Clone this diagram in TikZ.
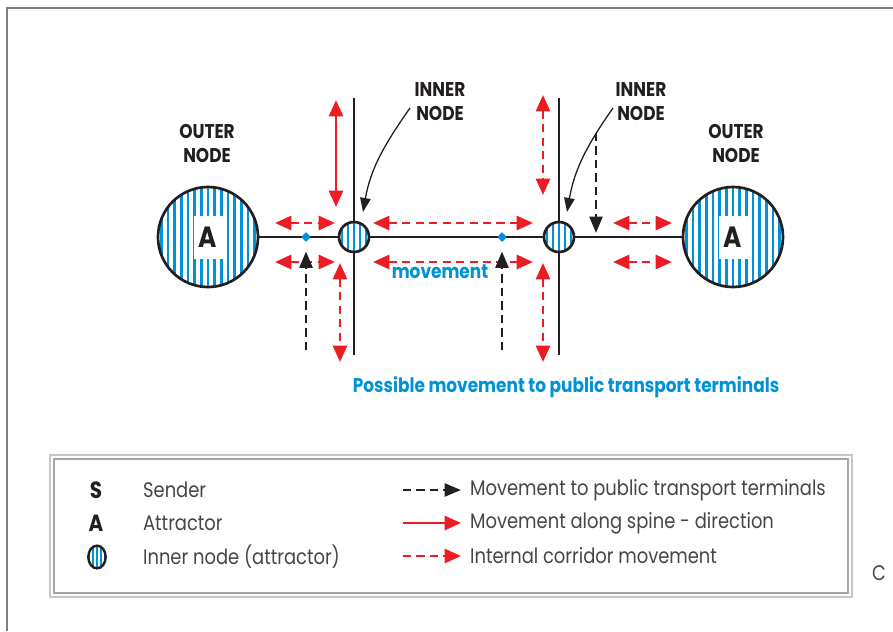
\documentclass[tikz,border=0pt]{standalone}
\usepackage{fontspec}
\setmainfont{Poppins}[FakeStretch=0.85]
\usetikzlibrary{arrows.meta,shapes.geometric}
\definecolor{stripeblue}{RGB}{0,146,214}
\definecolor{spinered}{RGB}{237,28,36}
\definecolor{ink}{RGB}{35,31,32}
\definecolor{framegray}{RGB}{128,128,128}
\definecolor{keygray}{RGB}{70,70,70}

\begin{document}
\begin{tikzpicture}[x=0.03cm,y=0.03cm,
    stripe/.style={stripeblue,line width=2.4pt},
    stripes/.style={path picture={\foreach \k in {-12,...,12}
        \draw[stripe] ([xshift=\k*#1]path picture bounding box.south) -- ([xshift=\k*#1]path picture bounding box.north);}},
    outer node/.style={circle,draw=ink,line width=2.3pt,minimum size=3cm,inner sep=0pt,stripes=0.2cm},
    inner node/.style={circle,draw=ink,line width=2.3pt,minimum size=0.9cm,inner sep=0pt,stripes=0.18cm},
    letter box/.style={fill=white,text=ink,minimum width=0.87cm,minimum height=1.29cm,inner sep=0pt,font=\fontsize{25}{25}\selectfont\bfseries},
    title text/.style={align=center,text=ink,font=\fontsize{17}{20.5}\selectfont\bfseries},
    key text/.style={anchor=west,text=keygray,font=\fontsize{18}{18}\selectfont},
    key letter/.style={text=ink,font=\fontsize{20}{20}\selectfont\bfseries},
    dot/.style={diamond,fill=stripeblue,minimum size=0.29cm,inner sep=0pt},
    spine/.style={ink,line width=2.4pt},
    along/.style={spinered,line width=2.4pt,{Triangle[length=14pt,width=12pt]}-{Triangle[length=14pt,width=12pt]}},
    corridor/.style={along,dash pattern=on 7pt off 4.5pt},
    transit/.style={ink,line width=2.4pt,dash pattern=on 7pt off 4.5pt,-{Triangle[length=14pt,width=11pt]}},
    pointer/.style={ink,line width=1.1pt,-{Triangle[length=12pt,width=9pt]}}]

    \useasboundingbox (0,0) rectangle (893,-631);
    % frame
    \draw[framegray,line width=1.7pt] (7,-631) -- (7,-7.5) -- (893,-7.5);

    % nodes
    \node[outer node] (outerL) at (208,-237) {};
    \node[outer node] (outerR) at (733,-237) {};
    \node[letter box] (aL) at (outerL) {A};
    \node[letter box] (aR) at (outerR) {A};
    \node[inner node] (innerL) at (354,-237) {};
    \node[inner node] (innerR) at (559,-237) {};
    \node[dot] (dotL) at (306,-237) {};
    \node[dot] (dotR) at (502,-237) {};

    \node[title text] (outerLtxt) at (207,-143) {OUTER\\NODE};
    \node[title text] (outerRtxt) at (736,-143) {OUTER\\NODE};
    \node[title text] (innerLtxt) at (440,-102) {INNER\\NODE};
    \node[title text] (innerRtxt) at (641,-102) {INNER\\NODE};
    \node[title text,text=stripeblue] (movetxt) at (440,-272) {movement};
    \node[title text,text=stripeblue] (possibletxt) at (566,-387) {Possible movement to public transport terminals};

    % spine
    \coordinate (topL) at (354,-98);
    \coordinate (botL) at (354,-355);
    \coordinate (topR) at (559,-98);
    \coordinate (botR) at (559,-355);
    \draw[spine] (outerL) -- (innerL) -- (innerR) -- (outerR);
    \draw[spine] (topL) -- (innerL) -- (botL);
    \draw[spine] (topR) -- (innerR) -- (botR);
    \node[dot] at (dotL) {};
    \node[dot] at (dotR) {};

    % movement along spine
    \coordinate (s1a) at (336,-100);
    \coordinate (s1b) at (336,-207);
    \draw[along] (s1a) -- (s1b);

    % internal corridor
    \coordinate (h1a) at (275,-223); \coordinate (h1b) at (335,-223);
    \coordinate (h2a) at (275,-262); \coordinate (h2b) at (335,-262);
    \coordinate (h3a) at (373,-223); \coordinate (h3b) at (533,-223);
    \coordinate (h4a) at (373,-262); \coordinate (h4b) at (533,-262);
    \coordinate (h5a) at (613,-223); \coordinate (h5b) at (672,-223);
    \coordinate (h6a) at (613,-262); \coordinate (h6b) at (672,-262);
    \coordinate (v1a) at (340,-263); \coordinate (v1b) at (340,-362);
    \coordinate (v2a) at (543,-95);  \coordinate (v2b) at (543,-195);
    \coordinate (v3a) at (543,-263); \coordinate (v3b) at (543,-362);
    \draw[corridor] (h1a) -- (h1b);
    \draw[corridor] (h2a) -- (h2b);
    \draw[corridor] (h3a) -- (h3b);
    \draw[corridor] (h4a) -- (h4b);
    \draw[corridor] (h5a) -- (h5b);
    \draw[corridor] (h6a) -- (h6b);
    \draw[corridor] (v1a) -- (v1b);
    \draw[corridor] (v2a) -- (v2b);
    \draw[corridor] (v3a) -- (v3b);

    % public transport terminals
    \coordinate (t1) at (306,-350);
    \coordinate (t2) at (502,-350);
    \coordinate (t3a) at (596,-133);
    \coordinate (t3b) at (596,-233);
    \draw[transit,shorten >=8pt] (t1) -- (dotL);
    \draw[transit,shorten >=8pt] (t2) -- (dotR);
    \draw[transit] (t3a) -- (t3b);

    % pointers to inner nodes
    \coordinate (p1a) at (410,-108); \coordinate (p1b) at (363,-212);
    \coordinate (p2a) at (613,-108); \coordinate (p2b) at (567,-212);
    \draw[pointer] (p1a) to[out=235,in=80] (p1b);
    \draw[pointer] (p2a) to[out=235,in=80] (p2b);

    % legend
    \draw[gray!45,line width=1pt] (50,-455) rectangle (852,-597);
    \draw[gray!70,line width=1.6pt] (54,-459) rectangle (848,-593);
    \node[key letter] (keyS) at (96,-490) {S};
    \node[key letter] (keyA) at (96,-523) {A};
    \node[ellipse,draw=ink,line width=2.1pt,minimum width=0.52cm,minimum height=0.68cm,inner sep=0pt,stripes=0.12cm] (keyI) at (97,-557) {};
    \node[key text] (keySt) at (139,-490) {Sender};
    \node[key text] (keyAt) at (139,-523) {Attractor};
    \node[key text] (keyIt) at (139,-557) {Inner node (attractor)};
    \coordinate (k1a) at (403,-490); \coordinate (k1b) at (461,-490);
    \coordinate (k2a) at (403,-523); \coordinate (k2b) at (461,-523);
    \coordinate (k3a) at (403,-556); \coordinate (k3b) at (461,-556);
    \draw[transit] (k1a) -- (k1b);
    \draw[spinered,line width=2.4pt,-{Triangle[length=14pt,width=12pt]}] (k2a) -- (k2b);
    \draw[spinered,line width=2.4pt,dash pattern=on 7pt off 4.5pt,-{Triangle[length=14pt,width=12pt]}] (k3a) -- (k3b);
    \node[key text] (k1t) at (466,-490) {Movement to public transport terminals};
    \node[key text] (k2t) at (466,-523) {Movement along spine - direction};
    \node[key text] (k3t) at (466,-556) {Internal corridor movement};
    \node[key text,anchor=center] (ctxt) at (879,-573) {C};
\end{tikzpicture}
\end{document}
